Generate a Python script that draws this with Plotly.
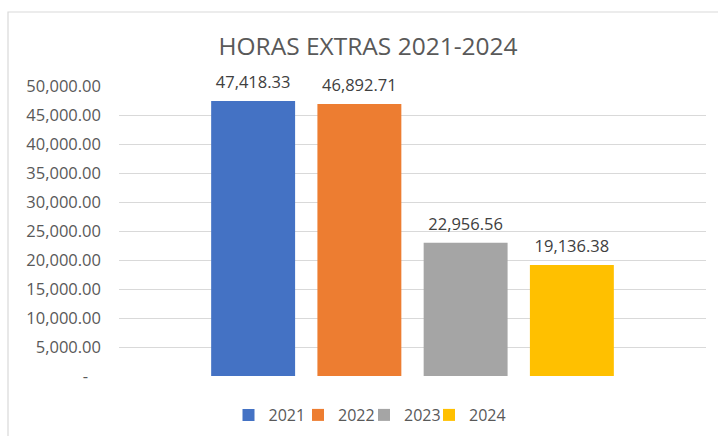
import plotly.graph_objects as go

years = ["2021", "2022", "2023", "2024"]
hours = [47418.33, 46892.71, 22956.56, 19136.38]
colors = ["#4472C4", "#ED7D31", "#A5A5A5", "#FFC000"]
category = ["Horas extras"]
tick_vals = [0, 5000, 10000, 15000, 20000, 25000, 30000, 35000, 40000, 45000, 50000]
tick_text = ["-\u00a0\u00a0\u00a0", "5,000.00", "10,000.00", "15,000.00", "20,000.00", "25,000.00",
             "30,000.00", "35,000.00", "40,000.00", "45,000.00", "50,000.00"]

FONT = "Open Sans, Lato, sans-serif"
BARGAP = 0.276
W, H = 718, 436
L, R, T, B = 119, 12, 86, 60
pw, ph = W - L - R, H - T - B

legend_ids = ["legend", "legend2", "legend3", "legend4"]
legend_sym_x = [251.5, 321, 387, 452]

fig = go.Figure()
for yr, val, col, lg in zip(years, hours, colors, legend_ids):
    fig.add_trace(go.Bar(
        x=category, y=[val], name=yr, offsetgroup=yr, legend=lg,
        marker=dict(color=col, line=dict(width=0)),
        hoverinfo="skip",
    ))
# value labels, grouped like the bars
for yr, val in zip(years, hours):
    fig.add_trace(go.Scatter(
        x=category, y=[val], mode="markers+text", showlegend=False,
        offsetgroup=yr,
        marker=dict(size=12, opacity=0),
        text=[f"{val:,.2f}"], textposition="top center",
        textfont=dict(family=FONT, size=16.5, color="#404040"),
        cliponaxis=False, hoverinfo="skip",
    ))

legends = {}
for lg, sx in zip(legend_ids, legend_sym_x):
    legends[lg] = dict(orientation="h", x=(sx - 23) / W, xref="container", xanchor="left",
                       y=1 - 415 / H, yref="container", yanchor="middle",
                       font=dict(family=FONT, size=16, color="#595959"),
                       bgcolor="rgba(0,0,0,0)")

fig.update_layout(
    width=W, height=H,
    margin=dict(l=L, r=R, t=T, b=B, autoexpand=False),
    paper_bgcolor="white", plot_bgcolor="white",
    barmode="group", bargap=BARGAP, bargroupgap=0.21,
    scattermode="group", scattergap=BARGAP,
    title=dict(text="HORAS EXTRAS 2021-2024", x=368 / W, xref="container", xanchor="center",
               y=1 - 46 / H, yref="container", yanchor="middle",
               font=dict(family=FONT, size=24.5, color="#595959")),
    showlegend=True,
    xaxis=dict(range=[-0.5, 0.5], showticklabels=False, showgrid=False,
               showline=False, zeroline=False, ticks="", automargin=False),
    yaxis=dict(range=[0, 50000], tickvals=tick_vals, ticktext=tick_text,
               showgrid=True, gridcolor="#d9d9d9", gridwidth=1.3,
               zeroline=False, showline=False, ticks="", ticklabelstandoff=17,
               automargin=False,
               tickfont=dict(family=FONT, size=16.5, color="#595959")),
    shapes=[dict(type="rect", xref="paper", yref="paper",
                 x0=(8 - L) / pw, x1=(740 - L) / pw,
                 y0=(376 - 460) / ph, y1=(376 - 12) / ph,
                 line=dict(color="#d9d9d9", width=1.2), fillcolor="rgba(0,0,0,0)",
                 layer="below")],
    **legends,
)

fig.write_html("out.html", config={"displayModeBar": False},
               post_script="document.body.style.margin='0px';")
